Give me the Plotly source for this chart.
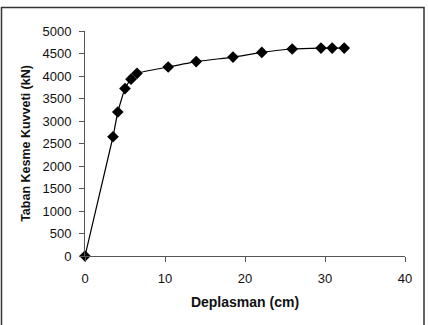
import plotly.graph_objects as go

disp = [0, 3.5, 4.1, 5.0, 5.75, 6.5, 10.4, 13.9, 18.5, 22.1, 25.9, 29.5, 30.9, 32.4]
force = [0, 2650, 3200, 3720, 3930, 4060, 4200, 4320, 4420, 4525, 4600, 4620, 4620, 4620]

fig = go.Figure()
fig.add_trace(go.Scatter(
    x=disp, y=force, mode="lines+markers",
    line=dict(color="black", width=1.2, shape="spline", smoothing=0.4),
    marker=dict(symbol="diamond", size=9, color="black"),
    showlegend=False, cliponaxis=False,
))

L, R, T, B = 85, 405, 31, 256
W, H = 428, 325
fig.update_layout(
    width=W, height=H,
    margin=dict(l=L, r=W - R, t=T, b=H - B, pad=0),
    paper_bgcolor="white", plot_bgcolor="white",
    font=dict(family="Liberation Sans, Arial, sans-serif", size=13, color="#111"),
    xaxis=dict(range=[0, 40], tickvals=[0, 10, 20, 30, 40], showgrid=False, zeroline=False,
               showline=True, linecolor="#555", linewidth=1, ticks="outside", ticklen=5,
               tickcolor="#555", ticklabelstandoff=5, tickfont=dict(size=13),
               title=dict(text="<b>Deplasman (cm)</b>", font=dict(size=14), standoff=12)),
    yaxis=dict(range=[0, 5000], tickvals=list(range(0, 5001, 500)), showgrid=False, zeroline=False,
               showline=True, linecolor="#555", linewidth=1, ticks="outside", ticklen=5,
               tickcolor="#555", ticklabelstandoff=5, tickfont=dict(size=13),
               title=dict(text="<b>Taban Kesme Kuvveti (kN)</b>", font=dict(size=12.5), standoff=9)),
    shapes=[dict(type="rect", xref="paper", yref="paper",
                 x0=(1.5 - L) / (R - L), x1=(424 - L) / (R - L),
                 y0=(B - 340) / (B - T), y1=(B - 7.5) / (B - T),
                 line=dict(color="#333", width=1.5), fillcolor="rgba(0,0,0,0)", layer="below")],
)
fig.write_html("out.html")
